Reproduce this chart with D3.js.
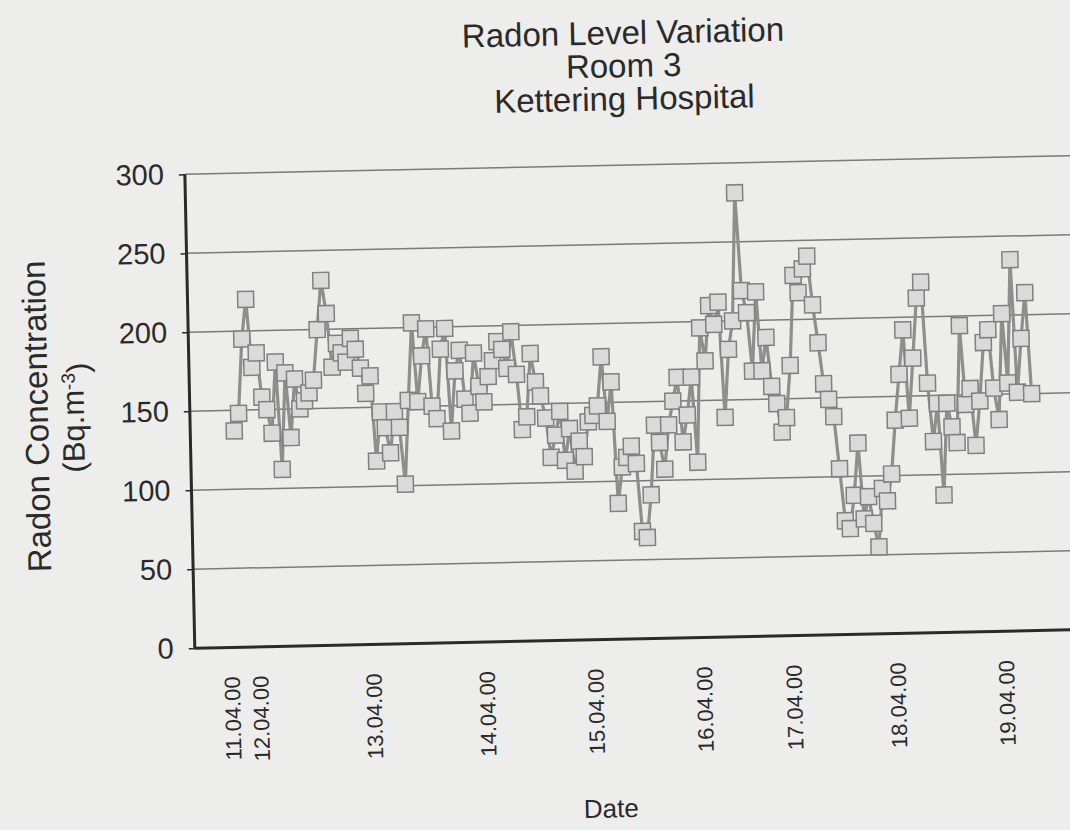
<!DOCTYPE html>
<html>
<head>
<meta charset="utf-8">
<script src="https://cdn.jsdelivr.net/npm/d3@7"></script>
<style>
  html, body { margin: 0; padding: 0; background: #ededeb; }
  svg { display: block; }
</style>
</head>
<body>
<svg id="chart" width="1070" height="830"></svg>
<script>
// ---------------- DATA ----------------
const titleLines = ["Radon Level Variation", "Room 3", "Kettering Hospital"];
const yAxisTitle = "Radon Concentration";
const yAxisUnit = "(Bq.m";
const yAxisUnitSup = "-3";
const xAxisTitle = "Date";
const yTicks = [0, 50, 100, 150, 200, 250, 300];
const dateLabels = ["11.04.00", "12.04.00", "13.04.00", "14.04.00", "15.04.00",
                    "16.04.00", "17.04.00", "18.04.00", "19.04.00"];
// index of the reading at which each date label sits
const dateLabelIndex = [0, 6, 30, 54, 77, 100, 119, 141, 164];
// hourly radon readings (Bq.m-3)
const radon = [
  137, 148, 195, 220, 177, 186, 158, 150, 135, 180,
  112, 173, 132, 169, 150, 155, 160, 168, 200, 231,
  210, 176, 191, 185, 179, 194, 187, 175, 159, 170,
  116, 147, 137, 121, 147, 137, 101, 154, 203, 153,
  182, 199, 150, 142, 186, 199, 134, 172, 185, 154,
  145, 183, 162, 152, 168, 178, 190, 185, 173, 196,
  169, 134, 142, 182, 164, 155, 141, 116, 130, 145,
  114, 134, 107, 126, 116, 138, 142, 148, 179, 138,
  163, 86, 109, 115, 122, 111, 68, 64, 91, 135,
  124, 107, 135, 150, 165, 124, 141, 165, 111, 196,
  175, 210, 198, 212, 139, 182, 200, 281, 219, 205,
  168, 218, 168, 189, 158, 147, 129, 138, 171, 228,
  217, 232, 240, 209, 185, 159, 149, 138, 105, 72,
  67, 88, 121, 73, 87, 70, 55, 92, 84, 101,
  135, 164, 192, 136, 174, 212, 222, 158, 121, 145,
  87, 145, 130, 120, 194, 144, 154, 118, 146, 183,
  191, 154, 134, 201, 157, 235, 151, 185, 214, 150
];

// ---------------- LAYOUT ----------------
const svg = d3.select("#chart");
const font = "'Liberation Sans', Arial, Helvetica, sans-serif";
const ink = "#2a2a2a";

// whole page is slightly rotated, as in the scanned original
const page = svg.append("g").attr("transform", "rotate(-1.2, 630, 415)");

const plot = { left: 190, top: 165, bottom: 639, right: 1120 };

const x = d3.scaleLinear().domain([0, radon.length - 1]).range([234, 1032]);
const y = d3.scaleLinear().domain([0, 300]).range([plot.bottom, plot.top]);

// Title
page.append("g").selectAll("text").data(titleLines).join("text")
  .attr("x", 631)
  .attr("y", (d, i) => 44 + i * 33)
  .attr("text-anchor", "middle")
  .attr("font-family", font)
  .attr("font-size", 33)
  .attr("fill", ink)
  .text(d => d);

// Gridlines
page.append("g").selectAll("line").data(yTicks.filter(t => t > 0)).join("line")
  .attr("x1", plot.left).attr("x2", plot.right)
  .attr("y1", d => y(d)).attr("y2", d => y(d))
  .attr("stroke", "#7a7a7a").attr("stroke-width", 1.5);

// Y axis with ticks and labels
const yAxis = page.append("g")
  .attr("transform", `translate(${plot.left},0)`)
  .call(d3.axisLeft(y).tickValues(yTicks).tickSize(6).tickPadding(15));
yAxis.select(".domain").remove();
yAxis.selectAll(".tick line").attr("stroke", ink).attr("stroke-width", 1.5);
yAxis.selectAll(".tick text")
  .attr("font-family", font).attr("font-size", 29).attr("fill", ink);

// Axis lines (left and bottom)
page.append("line")
  .attr("x1", plot.left).attr("x2", plot.left)
  .attr("y1", plot.top).attr("y2", plot.bottom)
  .attr("stroke", ink).attr("stroke-width", 3);
page.append("line")
  .attr("x1", plot.left).attr("x2", plot.right)
  .attr("y1", plot.bottom).attr("y2", plot.bottom)
  .attr("stroke", ink).attr("stroke-width", 3);

// X axis date labels (rotated)
const xAxis = page.append("g")
  .attr("transform", `translate(0,${plot.bottom})`)
  .call(d3.axisBottom(x).tickValues(dateLabelIndex)
        .tickFormat((d, i) => dateLabels[i]).tickSize(0).tickPadding(0));
xAxis.select(".domain").remove();
xAxis.selectAll(".tick text")
  .attr("font-family", font).attr("font-size", 22).attr("fill", ink)
  .attr("text-anchor", "end")
  .attr("y", 0).attr("dy", "0.36em")
  .attr("transform", "translate(-8,29) rotate(-90)");

// Series line
page.append("path")
  .datum(radon)
  .attr("d", d3.line().x((d, i) => x(i)).y(d => y(d)))
  .attr("fill", "none")
  .attr("stroke", "#8e8e8e")
  .attr("stroke-width", 3.2)
  .attr("stroke-linejoin", "round");

// Markers
const ms = 16;
page.append("g").selectAll("rect").data(radon).join("rect")
  .attr("x", (d, i) => x(i) - ms / 2)
  .attr("y", d => y(d) - ms / 2)
  .attr("width", ms).attr("height", ms)
  .attr("fill", "#dadada")
  .attr("stroke", "#808080")
  .attr("stroke-width", 1.5);

// Axis titles
page.append("text")
  .attr("transform", "translate(48,404) rotate(-90)")
  .attr("text-anchor", "middle")
  .attr("font-family", font).attr("font-size", 33).attr("fill", ink)
  .text(yAxisTitle);
const unit = page.append("text")
  .attr("transform", "translate(84,406) rotate(-90)")
  .attr("text-anchor", "middle")
  .attr("font-family", font).attr("font-size", 31).attr("fill", ink);
unit.append("tspan").text(yAxisUnit);
unit.append("tspan").attr("dy", "-0.45em").attr("font-size", 19).text(yAxisUnitSup);
unit.append("tspan").attr("dy", "0.45em").text(")");

page.append("text")
  .attr("x", 603).attr("y", 817)
  .attr("text-anchor", "middle")
  .attr("font-family", font).attr("font-size", 26).attr("fill", ink)
  .text(xAxisTitle);
</script>
</body>
</html>
